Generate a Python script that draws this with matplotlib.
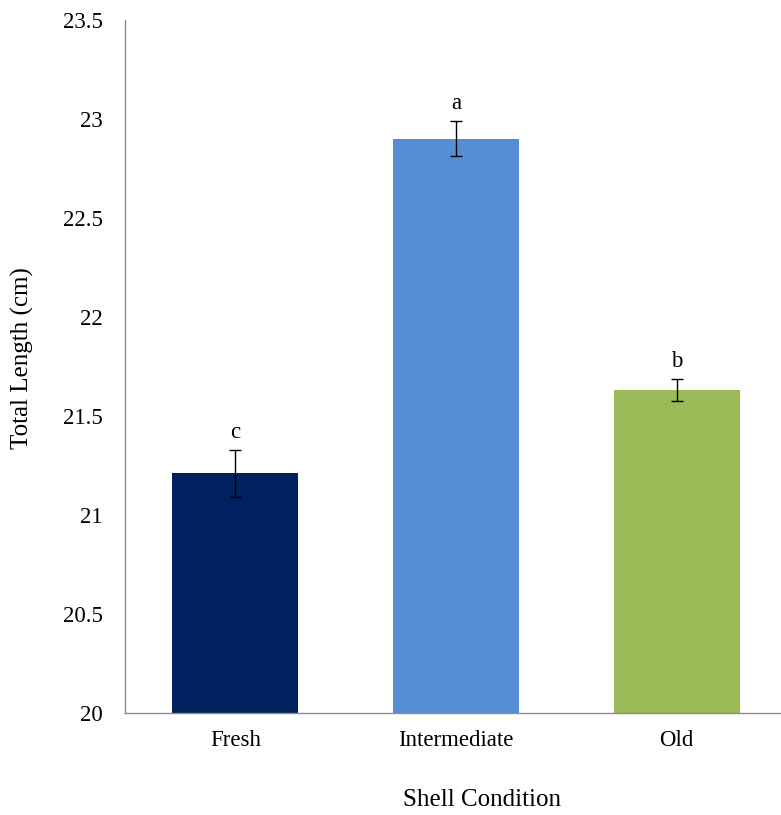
import matplotlib
matplotlib.use("Agg")
import matplotlib.pyplot as plt

plt.rcParams['font.family'] = ['Liberation Serif', 'DejaVu Serif']

conditions = ["Fresh", "Intermediate", "Old"]
lengths = [21.21, 22.90, 21.63]
errors = [0.12, 0.088, 0.055]
letters = ["c", "a", "b"]
colors = ["#002060", "#558ED5", "#9BBB59"]

fig = plt.figure(figsize=(7.81, 8.15), dpi=100)
ax = fig.add_axes([125 / 781, 102 / 815, 662 / 781, 693 / 815])

x = range(len(conditions))
ax.bar(x, lengths, width=0.57, color=colors, zorder=2)
ax.errorbar(x, lengths, yerr=errors, fmt='none', ecolor='black',
            elinewidth=1, capsize=4, capthick=1, zorder=3)

for xi, v, e, lab in zip(x, lengths, errors, letters):
    ax.annotate(lab, (xi, v + e), xytext=(0, 5), textcoords='offset points',
                ha='center', va='bottom', fontsize=16.5)

ax.set_xlim(-0.5, 2.5)
ax.set_ylim(20, 23.5)
ax.set_yticks([20, 20.5, 21, 21.5, 22, 22.5, 23, 23.5])
ax.set_yticklabels(["20", "20.5", "21", "21.5", "22", "22.5", "23", "23.5"])
ax.set_xticks(list(x))
ax.set_xticklabels(conditions)
ax.tick_params(axis='both', length=0, labelsize=16.5)
ax.tick_params(axis='y', pad=16)
ax.tick_params(axis='x', pad=12)

for s in ['top', 'right']:
    ax.spines[s].set_visible(False)
for s in ['left', 'bottom']:
    ax.spines[s].set_color('#8c8c8c')
    ax.spines[s].set_linewidth(1)

fig.text(22 / 781, 1 - 358 / 815, "Total Length (cm)", rotation=90,
         ha='center', va='center', fontsize=18)
fig.text(482 / 781, 1 - 800 / 815, "Shell Condition",
         ha='center', va='center', fontsize=18)

fig.savefig("out.png", dpi=100)
